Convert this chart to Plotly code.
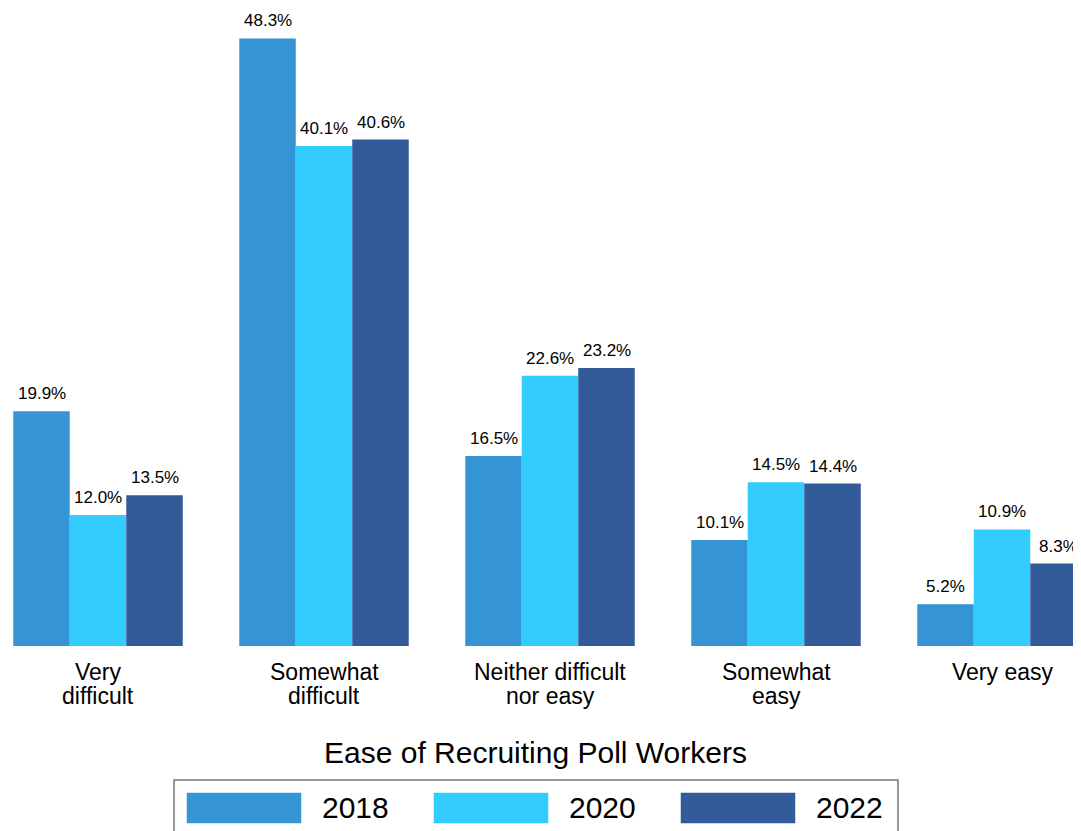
import plotly.graph_objects as go

categories = ["Very<br>difficult", "Somewhat<br>difficult", "Neither difficult<br>nor easy",
              "Somewhat<br>easy", "Very easy"]
years = ["2018", "2020", "2022"]
values_2018 = [19.9, 48.3, 16.5, 10.1, 5.2]
values_2020 = [12.0, 40.1, 22.6, 14.5, 10.9]
values_2022 = [13.5, 40.6, 23.2, 14.4, 8.3]
colors = ["#3595D4", "#33CCFF", "#335A99"]
title_text = "Ease of Recruiting Poll Workers"

# page body has an 8px offset, so the figure is sized to the visible area
OFF = 8
W, H = 1081 - OFF, 831 - OFF
PLOT_BOTTOM = 646 - OFF
FONT = "Liberation Sans, Arial, Helvetica, sans-serif"
BARGAP = 0.25
series = [values_2018, values_2020, values_2022]

fig = go.Figure()
for name, vals, col in zip(years, series, colors):
    fig.add_trace(go.Bar(
        name=name, x=list(range(len(categories))), y=vals,
        marker=dict(color=col, line=dict(width=0)),
        showlegend=False,
    ))

def xp(px):
    return (px - OFF) / W

def yp(py):
    return (PLOT_BOTTOM - (py - OFF)) / PLOT_BOTTOM

shapes = []
annotations = []

# value labels above bars (positioned through the data axes)
bar_w = (1 - BARGAP) / len(series)
for j, vals in enumerate(series):
    for i, v in enumerate(vals):
        annotations.append(dict(
            text=f"{v:.1f}%", x=i + (j - (len(series) - 1) / 2) * bar_w, y=v,
            xref="x", yref="y", xanchor="center", yanchor="bottom", yshift=6,
            showarrow=False, font=dict(size=17, color="black", family=FONT)))

# category labels (two lines with tight spacing)
for i, cat in enumerate(categories):
    lines = cat.split("<br>")
    for k, line in enumerate(lines):
        annotations.append(dict(
            text=line, x=i, y=yp(672 + 23.5 * k), xref="x", yref="paper",
            xanchor="center", yanchor="middle", showarrow=False,
            font=dict(size=23, color="black", family=FONT)))

# legend box
shapes.append(dict(type="rect", xref="paper", yref="paper",
                   x0=xp(174), x1=xp(898), y0=yp(780), y1=yp(845),
                   line=dict(color="#777777", width=1.5), fillcolor="rgba(0,0,0,0)"))
sw_x = [187, 434, 681]
for sx, col, name in zip(sw_x, colors, years):
    shapes.append(dict(type="rect", xref="paper", yref="paper",
                       x0=xp(sx), x1=xp(sx + 114), y0=yp(823), y1=yp(793),
                       line=dict(color=col, width=0.5), fillcolor=col))
    annotations.append(dict(text=name, xref="paper", yref="paper",
                            x=xp(sx + 133), y=yp(808), xanchor="left", yanchor="middle",
                            showarrow=False, font=dict(size=30, color="black", family=FONT)))

annotations.append(dict(text=title_text, xref="paper", yref="paper",
                        x=xp(535), y=yp(752), xanchor="center", yanchor="middle",
                        showarrow=False, font=dict(size=30, color="black", family=FONT)))

fig.update_layout(
    width=W, height=H,
    margin=dict(l=0, r=0, t=0, b=H - PLOT_BOTTOM, pad=0),
    paper_bgcolor="white", plot_bgcolor="white",
    barmode="group", bargap=BARGAP, bargroupgap=0,
    font=dict(family=FONT, color="black"),
    xaxis=dict(tickmode="array", tickvals=list(range(len(categories))),
               showticklabels=False,
               range=[(OFF - 98) / 226, (1081 - 98) / 226],
               showgrid=False, zeroline=False, showline=False, ticks=""),
    yaxis=dict(range=[(672.6 - PLOT_BOTTOM - OFF) / 13.13, (672.6 - OFF) / 13.13],
               visible=False, showgrid=False, zeroline=False),
    shapes=shapes, annotations=annotations,
    showlegend=False,
)

fig.write_html("out.html")
